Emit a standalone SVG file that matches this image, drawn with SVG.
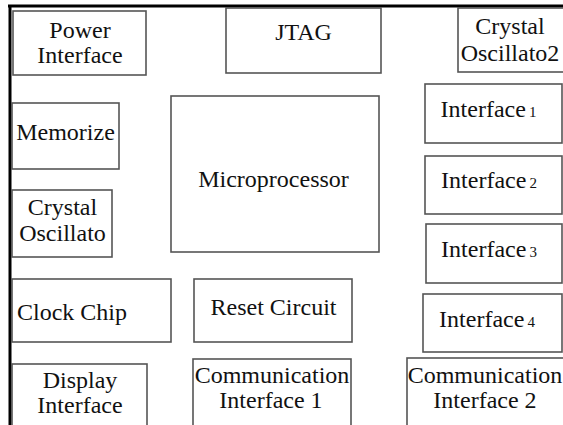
<svg xmlns="http://www.w3.org/2000/svg" width="563" height="425" viewBox="0 0 563 425">
  <style>
    text { font-family: 'Liberation Serif', 'DejaVu Serif', serif; }
    .box { fill: #ffffff; stroke: #555555; stroke-width: 1.6; }
    .lbl { font-size: 24px; fill: #111111; text-anchor: middle; }
    .sub { font-size: 15px; }
    .frame { stroke: #000000; stroke-width: 3; fill: none; }
  </style>
  <rect x="0" y="0" width="563" height="425" fill="#ffffff"/>

  <!-- board outline: top and left edges -->
  <g id="frame">
    <line class="frame" x1="8" y1="6" x2="563" y2="6"/>
    <line class="frame" x1="10" y1="5" x2="10" y2="425"/>
  </g>

  <g id="power-interface">
    <rect class="box" x="13" y="11" width="133" height="64"/>
    <text class="lbl" x="80" y="38" font-family="Liberation Serif, serif">Power</text>
    <text class="lbl" x="80" y="63" font-family="Liberation Serif, serif">Interface</text>
  </g>

  <g id="jtag">
    <rect class="box" x="226" y="8" width="155" height="65"/>
    <text class="lbl" x="303.5" y="40">JTAG</text>
  </g>

  <g id="crystal-oscillator-2">
    <rect class="box" x="458" y="8" width="110" height="64"/>
    <text class="lbl" x="510" y="34">Crystal</text>
    <text class="lbl" x="510" y="61">Oscillato2</text>
  </g>

  <g id="memorize">
    <rect class="box" x="12" y="103" width="107" height="66"/>
    <text class="lbl" x="65.5" y="140">Memorize</text>
  </g>

  <g id="crystal-oscillator">
    <rect class="box" x="12" y="190" width="100" height="67"/>
    <text class="lbl" x="62.5" y="215">Crystal</text>
    <text class="lbl" x="62.5" y="241">Oscillato</text>
  </g>

  <g id="microprocessor">
    <rect class="box" x="171" y="96" width="208" height="156"/>
    <text class="lbl" x="273.5" y="187">Microprocessor</text>
  </g>

  <g id="interface-1">
    <rect class="box" x="425" y="84" width="137" height="59"/>
    <text class="lbl" x="488.5" y="117">Interface<tspan class="sub" dx="3">1</tspan></text>
  </g>

  <g id="interface-2">
    <rect class="box" x="425" y="156" width="137" height="58"/>
    <text class="lbl" x="489" y="188">Interface<tspan class="sub" dx="3">2</tspan></text>
  </g>

  <g id="interface-3">
    <rect class="box" x="426" y="224" width="136" height="59"/>
    <text class="lbl" x="489" y="257">Interface<tspan class="sub" dx="3">3</tspan></text>
  </g>

  <g id="interface-4">
    <rect class="box" x="423" y="294" width="139" height="58"/>
    <text class="lbl" x="487" y="327">Interface<tspan class="sub" dx="3">4</tspan></text>
  </g>

  <g id="clock-chip">
    <rect class="box" x="12" y="279" width="159" height="63"/>
    <text class="lbl" x="72" y="320">Clock Chip</text>
  </g>

  <g id="reset-circuit">
    <rect class="box" x="194" y="279" width="158" height="63"/>
    <text class="lbl" x="273.5" y="315">Reset Circuit</text>
  </g>

  <g id="display-interface">
    <rect class="box" x="12" y="364" width="135" height="70"/>
    <text class="lbl" x="80" y="388">Display</text>
    <text class="lbl" x="80" y="413">Interface</text>
  </g>

  <g id="communication-interface-1">
    <rect class="box" x="193" y="359" width="158" height="75"/>
    <text class="lbl" x="272" y="383">Communication</text>
    <text class="lbl" x="271" y="408">Interface 1</text>
  </g>

  <g id="communication-interface-2">
    <rect class="box" x="407" y="358" width="165" height="76"/>
    <text class="lbl" x="485" y="383">Communication</text>
    <text class="lbl" x="485" y="408">Interface 2</text>
  </g>
</svg>
